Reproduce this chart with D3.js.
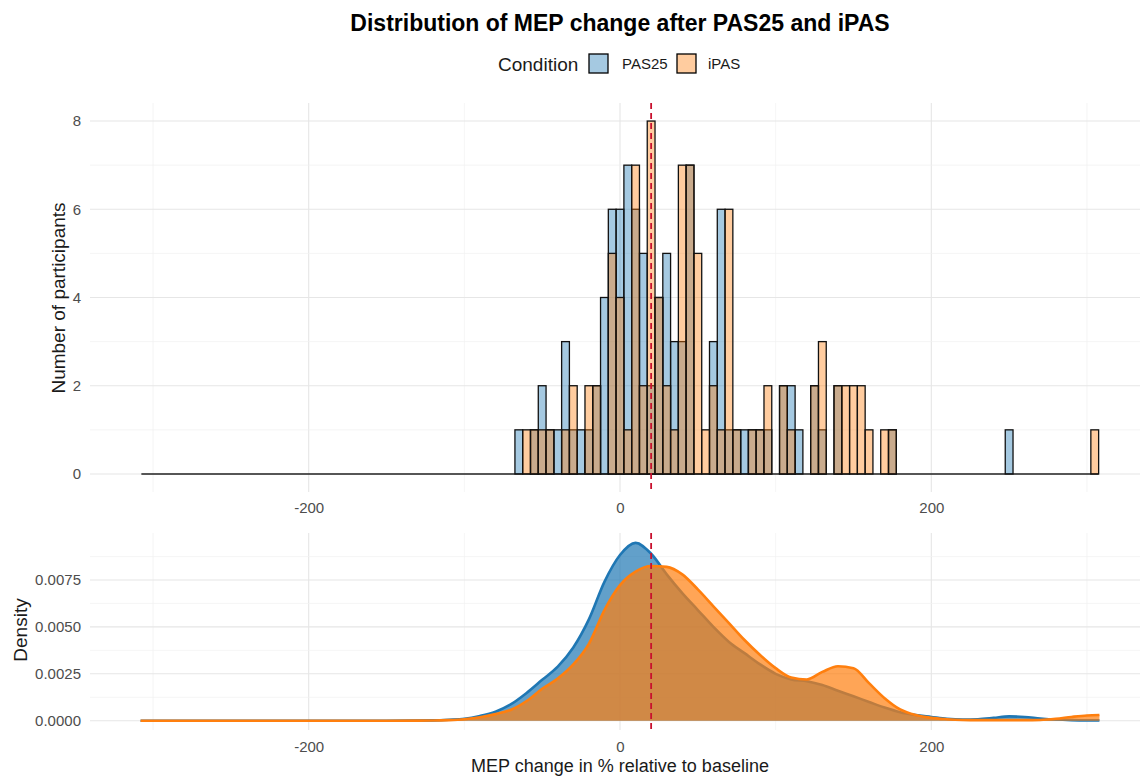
<!DOCTYPE html>
<html>
<head>
<meta charset="utf-8">
<script src="https://cdn.jsdelivr.net/npm/d3@7"></script>
<style>
body{margin:0;background:#fff;}
text{font-family:"Liberation Sans",Arial,sans-serif;}
</style>
</head>
<body>
<script>
// histogram bins (bin centre, width 5) and counts per condition
var binWidth=5;
var histRange=[-307.5,307.5];
var binCenters=[-65,-60,-55,-50,-45,-40,-35,-30,-25,-20,-15,-10,-5,0,5,10,15,20,25,30,35,40,45,50,55,60,65,70,75,80,85,90,95,100,105,110,115,120,125,130,135,140,145,150,155,160,165,170,175,250,305];
var pas25Counts=[1,0,1,2,1,1,3,1,1,1,2,4,6,6,7,6,5,2,4,5,3,3,7,0,0,3,6,1,1,1,1,1,1,0,2,2,1,0,2,1,0,2,0,0,0,0,0,0,1,1,0];
var ipasCounts=[0,1,1,1,1,0,1,2,0,2,2,0,5,4,1,7,2,8,4,2,1,7,7,5,1,2,1,6,1,0,1,1,2,0,2,1,0,0,2,3,0,2,2,2,2,1,0,1,1,0,1];

// density curves
var densX=[-308,-150,-120,-110,-100,-90,-80,-70,-60,-50,-40,-30,-20,-10,0,10,20,30,40,50,60,70,80,90,100,110,120,130,140,150,160,170,180,190,200,210,220,230,240,250,260,270,280,290,300,308];
var densPAS25=[0,0,0.00002,0.00005,0.0001,0.00025,0.00048,0.00088,0.00148,0.00218,0.00288,0.0039,0.0054,0.0074,0.00883,0.00948,0.0089,0.0078,0.0068,0.0059,0.0050,0.0042,0.0036,0.0030,0.0025,0.0022,0.0021,0.0019,0.0016,0.0013,0.0010,0.0007,0.00045,0.0003,0.0002,0.0001,0.00006,0.00008,0.00015,0.00023,0.0002,0.00012,0.00006,0.00003,0.00002,0.00002];
var densIPAS=[0,0,0.00001,0.00003,0.00008,0.00018,0.00035,0.00058,0.00105,0.0017,0.00225,0.0030,0.0041,0.0059,0.00723,0.00795,0.00825,0.0082,0.0078,0.0070,0.0061,0.0052,0.0043,0.0035,0.0028,0.0023,0.0022,0.0026,0.0029,0.0028,0.0020,0.0012,0.0006,0.0003,0.00015,0.00008,0.00004,0.00003,0.00003,0.00003,0.00003,0.00004,0.0001,0.0002,0.00028,0.0003];

var refLine=20;
var xTicks=[-200,0,200];
var xMinor=[-300,-100,100,300];
var countTicks=[0,2,4,6,8];
var countMinor=[1,3,5,7];
var densTicks=[0,0.0025,0.005,0.0075];
var densMinor=[0.00125,0.00375,0.00625,0.00875];

var colPAS="#1f77b4", colIPAS="#ff7f0e";
var W=1140,H=776;
var svg=d3.select("body").append("svg").attr("width",W).attr("height",H);

var xscale=d3.scaleLinear().domain([-340.5,340.5]).range([90,1150]);
var yTop=d3.scaleLinear().domain([-0.4,8.4]).range([491.6,103.4]);
var yBot=d3.scaleLinear().domain([0,0.01]).range([720.7,533.1]);

function grid(g,ys,yr,major,minor,xr){
	// vertical grid
	g.selectAll(".vmin").data(xMinor).enter().append("line").attr("x1",xscale).attr("x2",xscale).attr("y1",yr[0]).attr("y2",yr[1]).style("stroke","#f0f0f0").style("stroke-width",0.7);
	g.selectAll(".vmaj").data(xTicks).enter().append("line").attr("x1",xscale).attr("x2",xscale).attr("y1",yr[0]).attr("y2",yr[1]).style("stroke","#e6e6e6").style("stroke-width",1.1);
	g.selectAll(".hmin").data(minor).enter().append("line").attr("y1",ys).attr("y2",ys).attr("x1",xr[0]).attr("x2",xr[1]).style("stroke","#f0f0f0").style("stroke-width",0.7);
	g.selectAll(".hmaj").data(major).enter().append("line").attr("y1",ys).attr("y2",ys).attr("x1",xr[0]).attr("x2",xr[1]).style("stroke","#e6e6e6").style("stroke-width",1.1);
}

var gTop=svg.append("g");
grid(gTop,yTop,[103,492],countTicks,countMinor,[90,1140]);
var gBot=svg.append("g");
grid(gBot,yBot,[533,730],densTicks,densMinor,[90,1140]);

// title + legend
svg.append("text").attr("x",620).attr("y",31).attr("text-anchor","middle").style("font-size","23px").style("font-weight","bold").text("Distribution of MEP change after PAS25 and iPAS");
var leg=svg.append("g");
leg.append("text").attr("x",498).attr("y",71).style("font-size","19px").style("fill","#1a1a1a").text("Condition");
leg.append("rect").attr("x",589).attr("y",54).attr("width",19).attr("height",19).style("fill",colPAS).style("fill-opacity",0.4).style("stroke","#000").style("stroke-width",1.3);
leg.append("text").attr("x",622).attr("y",69).style("font-size","15px").style("fill","#1a1a1a").text("PAS25");
leg.append("rect").attr("x",677).attr("y",54).attr("width",19).attr("height",19).style("fill",colIPAS).style("fill-opacity",0.4).style("stroke","#000").style("stroke-width",1.3);
leg.append("text").attr("x",708).attr("y",69).style("font-size","15px").style("fill","#1a1a1a").text("iPAS");

// histogram
var hist=binCenters.map(function(c,i){return {c:c,p:pas25Counts[i],q:ipasCounts[i]};});
gTop.append("line").attr("x1",xscale(histRange[0])).attr("x2",xscale(histRange[1])).attr("y1",yTop(0)).attr("y2",yTop(0)).style("stroke","#222").style("stroke-width",1.6);
[["p",colPAS],["q",colIPAS]].forEach(function(s){
	gTop.selectAll(".bar"+s[0]).data(hist.filter(function(d){return d[s[0]]>0;})).enter().append("rect")
		.attr("x",function(d){return xscale(d.c-binWidth/2);})
		.attr("width",function(d){return xscale(d.c+binWidth/2)-xscale(d.c-binWidth/2);})
		.attr("y",function(d){return yTop(d[s[0]]);})
		.attr("height",function(d){return yTop(0)-yTop(d[s[0]]);})
		.style("fill",s[1]).style("fill-opacity",0.4).style("stroke","#111").style("stroke-width",1.3);
});

// density
var dens=densX.map(function(x,i){return {x:x,p:densPAS25[i],q:densIPAS[i]};});
[["p",colPAS],["q",colIPAS]].forEach(function(s){
	var area=d3.area().curve(d3.curveMonotoneX).x(function(d){return xscale(d.x);}).y0(yBot(0)).y1(function(d){return yBot(d[s[0]]);});
	var line=d3.line().curve(d3.curveMonotoneX).x(function(d){return xscale(d.x);}).y(function(d){return yBot(d[s[0]]);});
	gBot.append("path").datum(dens).attr("d",area).style("fill",s[1]).style("fill-opacity",0.7);
	gBot.append("path").datum(dens).attr("d",line).style("fill","none").style("stroke",s[1]).style("stroke-width",2.6);
});

// reference lines
gTop.append("line").attr("x1",xscale(refLine)).attr("x2",xscale(refLine)).attr("y1",103).attr("y2",492).style("stroke","#c8102e").style("stroke-width",1.8).style("stroke-dasharray","6,4");
gBot.append("line").attr("x1",xscale(refLine)).attr("x2",xscale(refLine)).attr("y1",533).attr("y2",730).style("stroke","#c8102e").style("stroke-width",1.8).style("stroke-dasharray","6,4");

// axes
var plain=function(d){return String(d);};
var tickStyle=function(g){g.select(".domain").remove();g.selectAll("line").remove();g.selectAll("text").style("font-size","15px").style("fill","#4d4d4d").style("font-family","'Liberation Sans',Arial,sans-serif");};
svg.append("g").attr("transform","translate(0,497)").call(d3.axisBottom(xscale).tickValues(xTicks).tickFormat(plain).tickSize(0).tickPadding(5)).call(tickStyle);
svg.append("g").attr("transform","translate(0,737)").call(d3.axisBottom(xscale).tickValues(xTicks).tickFormat(plain).tickSize(0).tickPadding(4)).call(tickStyle);
svg.append("g").attr("transform","translate(86,0)").call(d3.axisLeft(yTop).tickValues(countTicks).tickFormat(plain).tickSize(0).tickPadding(5)).call(tickStyle);
svg.append("g").attr("transform","translate(86,0)").call(d3.axisLeft(yBot).tickValues(densTicks).tickFormat(d3.format(".4f")).tickSize(0).tickPadding(5)).call(tickStyle);

svg.append("text").attr("transform","translate(65,298) rotate(-90)").attr("text-anchor","middle").style("font-size","19px").style("fill","#1a1a1a").text("Number of participants");
svg.append("text").attr("transform","translate(27,630) rotate(-90)").attr("text-anchor","middle").style("font-size","19px").style("fill","#1a1a1a").text("Density");
svg.append("text").attr("x",620).attr("y",772).attr("text-anchor","middle").style("font-size","18px").style("fill","#1a1a1a").text("MEP change in % relative to baseline");
</script>
</body>
</html>
